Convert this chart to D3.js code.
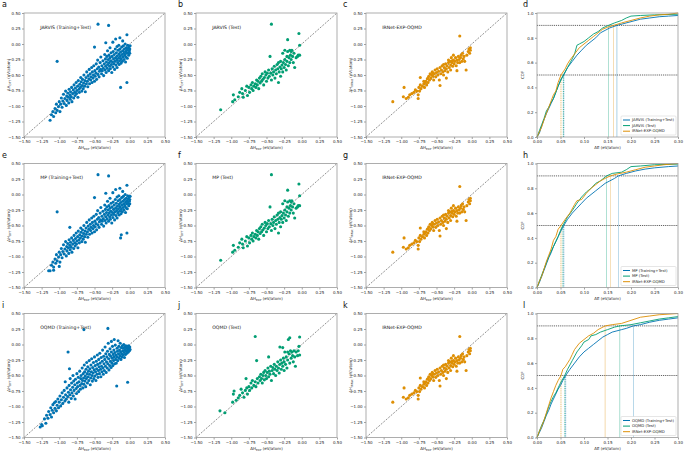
<!DOCTYPE html>
<html>
<head>
<meta charset="utf-8">
<script src="https://cdn.jsdelivr.net/npm/d3@7"></script>
<style>
  body { margin: 0; background: #fff; }
  svg text { font-family: "DejaVu Sans", sans-serif; }
</style>
</head>
<body>
<svg id="fig" width="685" height="452"></svg>
<script>
// ---- data: scatter points [ΔH_EXP, ΔH_pred] in eV/atom ----
var trainJarvis = [
  [-1.13,-1.23],[-1.11,-1.14],[-1.09,-1.09],[-1.08,-1.17],[-1.06,-1.04],[-1.05,-1.11],[-1.04,-0.97],[-1.03,-1.07],
  [-1.03,-0.28],[-1.01,-1.01],[-1.00,-0.93],[-0.99,-1.09],[-0.98,-0.97],[-0.97,-0.87],[-0.96,-1.02],[-0.95,-0.92],
  [-0.94,-0.81],[-0.93,-0.96],[-0.92,-0.88],[-0.91,-0.76],[-0.90,-0.99],[-0.895,-0.84],[-0.89,-0.91],[-0.88,-0.79],
  [-0.87,-0.86],[-0.865,-0.95],[-0.86,-0.73],[-0.85,-0.82],[-0.845,-0.89],[-0.84,-0.77],[-0.83,-0.85],[-0.825,-0.70],
  [-0.82,-0.93],[-0.81,-0.80],[-0.80,-0.74],[-0.795,-0.87],[-0.79,-0.66],[-0.78,-0.78],[-0.775,-0.83],[-0.77,-0.71],
  [-0.76,-0.62],[-0.755,-0.80],[-0.75,-0.75],[-0.74,-0.68],[-0.735,-0.86],[-0.73,-0.59],[-0.72,-0.73],[-0.715,-0.78],
  [-0.71,-0.65],[-0.70,-0.70],[-0.695,-0.54],[-0.69,-0.61],[-0.68,-0.76],[-0.675,-0.67],[-0.67,-0.57],[-0.66,-0.72],
  [-0.655,-0.63],[-0.65,-0.50],[-0.64,-0.68],[-0.635,-0.59],[-0.63,-0.77],[-0.62,-0.54],[-0.615,-0.64],[-0.61,-0.45],
  [-0.60,-0.60],[-0.595,-0.69],[-0.59,-0.51],[-0.58,-0.56],[-0.575,-0.41],[-0.57,-0.64],[-0.56,-0.48],[-0.555,-0.58],
  [-0.55,-0.53],[-0.54,-0.38],[-0.535,-0.62],[-0.53,-0.45],[-0.52,-0.55],[-0.515,-0.50],[-0.51,-0.35],[-0.50,-0.60],
  [-0.50,-0.05],[-0.495,-0.43],[-0.49,-0.52],[-0.48,-0.47],[-0.475,-0.32],[-0.47,-0.57],[-0.46,-0.40],[-0.455,-0.26],
  [-0.45,0.32],[-0.45,-0.49],[-0.44,-0.37],[-0.435,-0.53],[-0.43,-0.44],[-0.42,-0.30],[-0.415,-0.41],[-0.41,-0.21],
  [-0.40,-0.48],[-0.395,-0.35],[-0.39,-0.43],[-0.38,-0.27],[-0.375,-0.39],[-0.37,-0.51],[-0.36,-0.32],[-0.355,-0.17],
  [-0.35,-0.42],[-0.345,-0.24],[-0.34,0.02],[-0.34,-0.36],[-0.335,-0.46],[-0.33,-0.29],[-0.325,-0.20],[-0.32,-0.39],
  [-0.315,-0.11],[-0.31,-0.33],[-0.305,-0.25],[-0.30,0.30],[-0.30,-0.43],[-0.295,-0.18],[-0.29,-0.30],[-0.285,-0.36],
  [-0.28,-0.06],[-0.28,-0.22],[-0.275,-0.40],[-0.27,-0.27],[-0.265,-0.14],[-0.26,-0.33],[-0.255,-0.46],[-0.25,-0.20],
  [-0.245,-0.29],[-0.24,0.03],[-0.24,-0.37],[-0.235,-0.12],[-0.23,-0.24],[-0.225,-0.32],[-0.22,-0.17],[-0.215,-0.41],
  [-0.21,-0.28],[-0.205,-0.08],[-0.20,0.08],[-0.20,-0.22],[-0.195,-0.34],[-0.19,-0.14],[-0.185,-0.26],[-0.18,-0.04],
  [-0.18,-0.38],[-0.175,-0.19],[-0.17,-0.30],[-0.165,-0.10],[-0.16,-0.23],[-0.155,-0.02],[-0.15,-0.16],[-0.15,-0.33],
  [-0.145,-0.27],[-0.14,0.10],[-0.14,-0.08],[-0.135,-0.20],[-0.13,-0.70],[-0.13,-0.13],[-0.125,-0.31],[-0.12,-0.24],
  [-0.115,-0.05],[-0.11,-0.17],[-0.105,-0.28],[-0.10,0.05],[-0.10,-0.11],[-0.095,-0.21],[-0.09,-0.03],[-0.085,-0.15],
  [-0.08,-0.25],[-0.075,-0.08],[-0.07,-0.18],[-0.065,0.00],[-0.06,-0.12],[-0.06,-0.29],[-0.055,-0.21],[-0.05,-0.06],
  [-0.045,-0.15],[-0.04,0.15],[-0.04,-0.62],[-0.04,-0.10],[-0.035,-0.23],[-0.03,-0.02],[-0.025,-0.14],[-0.02,-0.07],
  [-0.015,-0.18],[-0.01,-0.04],[-0.005,-0.11],[0.00,-0.08],[0.005,-0.03],[0.00,-0.15]
];
// panel e differs from a only in a few points
var mpExtra = [[-1.15,-1.23],[-1.08,-1.22],[-1.00,-1.16],[-0.85,-0.53],[-0.12,-0.65]];

var trainOqmd = [
  [-1.27,-1.33],[-1.25,-1.29],[-1.24,-1.31],[-1.21,-1.20],[-1.19,-1.27],[-1.18,-1.14],[-1.16,-1.19],[-1.15,-1.08],
  [-1.13,-1.13],[-1.12,-1.02],[-1.11,-1.17],[-1.10,-1.06],[-1.09,-0.97],[-1.08,-1.10],[-1.07,-0.94],[-1.06,-1.03],
  [-1.05,-0.92],[-1.04,-1.07],[-1.03,-0.98],[-1.02,-0.88],[-1.01,-1.02],[-1.00,-0.93],[-0.99,-0.83],[-0.98,-0.99],
  [-0.97,-0.89],[-0.96,-0.78],[-0.95,-0.95],[-0.94,-0.85],[-0.93,-0.74],[-0.92,-0.91],[-0.915,-0.60],[-0.91,-0.81],
  [-0.90,-0.88],[-0.89,-0.70],[-0.88,-0.84],[-0.875,-0.12],[-0.87,-0.77],[-0.865,-0.93],[-0.86,-0.66],[-0.855,-0.39],
  [-0.85,-0.81],[-0.845,-0.55],[-0.84,-0.73],[-0.83,-0.87],[-0.825,-0.62],[-0.82,-0.78],[-0.81,-0.69],[-0.805,-0.50],
  [-0.80,-0.83],[-0.795,-0.59],[-0.79,-0.74],[-0.78,-0.65],[-0.775,-0.88],[-0.77,-0.56],[-0.76,-0.71],[-0.755,-0.79],
  [-0.75,-0.47],[-0.745,-0.62],[-0.74,-0.68],[-0.73,-0.53],[-0.725,-0.76],[-0.72,-0.60],[-0.71,-0.43],[-0.705,-0.66],
  [-0.70,-0.72],[-0.695,-0.55],[-0.69,-0.50],[-0.68,-0.63],[-0.675,-0.38],[-0.67,-0.58],[-0.665,-0.70],[-0.66,-0.47],
  [-0.655,-0.54],[-0.65,0.24],[-0.65,-0.64],[-0.645,-0.33],[-0.64,-0.44],[-0.635,-0.59],[-0.63,-0.51],[-0.625,-0.68],
  [-0.62,-0.40],[-0.615,-0.55],[-0.61,-0.29],[-0.605,-0.47],[-0.60,-0.62],[-0.595,-0.36],[-0.59,-0.52],[-0.585,-0.43],
  [-0.58,-0.58],[-0.575,-0.26],[-0.57,-0.48],[-0.565,-0.39],[-0.56,-0.65],[-0.555,-0.54],[-0.55,-0.33],[-0.545,-0.44],
  [-0.54,-0.23],[-0.535,-0.50],[-0.53,-0.59],[-0.525,-0.37],[-0.52,-0.46],[-0.515,-0.29],[-0.51,-0.55],[-0.505,-0.41],
  [-0.50,-0.20],[-0.495,-0.51],[-0.49,-0.34],[-0.485,-0.44],[-0.48,-0.58],[-0.475,-0.27],[-0.47,-0.39],[-0.465,-0.48],
  [-0.46,-0.17],[-0.455,-0.32],[-0.45,-0.53],[-0.445,-0.42],[-0.44,-0.24],[-0.435,-0.36],[-0.43,-0.47],[-0.425,-0.14],
  [-0.42,-0.30],[-0.415,-0.40],[-0.41,-0.52],[-0.405,-0.21],[-0.40,-0.35],[-0.395,-0.44],[-0.39,-0.27],[-0.385,-0.09],
  [-0.38,-0.38],[-0.375,-0.48],[-0.37,-0.19],[-0.365,-0.31],[-0.36,-0.42],[-0.355,-0.24],[-0.35,-0.04],[-0.345,-0.35],
  [-0.34,-0.15],[-0.335,-0.45],[-0.33,-0.28],[-0.325,-0.20],[-0.32,-0.38],[-0.315,-0.11],[-0.31,0.26],[-0.31,-0.31],
  [-0.305,0.02],[-0.30,-0.23],[-0.295,-0.41],[-0.29,-0.16],[-0.285,-0.34],[-0.28,-0.07],[-0.275,-0.27],[-0.27,-0.19],
  [-0.265,-0.37],[-0.26,0.05],[-0.26,-0.12],[-0.255,-0.30],[-0.25,-0.22],[-0.245,-0.03],[-0.24,-0.34],[-0.235,-0.16],
  [-0.23,-0.26],[-0.225,-0.09],[-0.22,0.08],[-0.22,-0.20],[-0.215,-0.31],[-0.21,-0.13],[-0.205,-0.01],[-0.20,-0.24],
  [-0.195,-0.17],[-0.19,-0.30],[-0.185,-0.67],[-0.18,-0.06],[-0.18,-0.20],[-0.175,-0.11],[-0.17,-0.26],[-0.165,0.06],
  [-0.16,-0.15],[-0.155,-0.03],[-0.15,-0.22],[-0.145,-0.09],[-0.14,-0.18],[-0.135,0.02],[-0.13,-0.12],[-0.125,-0.24],
  [-0.12,-0.05],[-0.115,-0.15],[-0.11,-0.20],[-0.105,-0.02],[-0.10,-0.10],[-0.095,-0.17],[-0.09,-0.06],[-0.085,0.00],
  [-0.08,-0.13],[-0.075,-0.21],[-0.07,-0.04],[-0.065,-0.09],[-0.06,-0.16],[-0.055,-0.02],[-0.05,-0.11],[-0.045,-0.06],
  [-0.04,-0.14],[-0.035,-0.03],[-0.03,-0.61],[-0.03,-0.09],[-0.025,-0.05],[-0.02,-0.12],[-0.015,-0.02],[-0.01,-0.07],
  [-0.005,-0.10],[0.00,-0.04],[0.005,-0.08]
];

var testJarvis = [
  [-1.15,-1.06],[-0.98,-0.93],[-0.97,-0.82],[-0.95,-0.90],[-0.90,-0.85],[-0.88,-0.78],[-0.85,-0.72],[-0.84,-0.80],
  [-0.83,-0.86],[-0.80,-0.75],[-0.78,-0.68],[-0.77,-0.83],[-0.75,-0.70],[-0.74,-0.78],[-0.72,-0.66],[-0.71,-0.72],
  [-0.70,-0.62],[-0.69,-0.75],[-0.68,-0.68],[-0.66,-0.64],[-0.65,-0.70],[-0.64,-0.58],[-0.63,-0.66],[-0.62,-0.60],
  [-0.61,-0.72],[-0.60,-0.55],[-0.59,-0.63],[-0.58,-0.52],[-0.57,-0.60],[-0.56,-0.48],[-0.55,-0.57],[-0.54,-0.66],
  [-0.53,-0.54],[-0.52,-0.45],[-0.51,-0.50],[-0.50,-0.60],[-0.49,-0.47],[-0.48,-0.55],[-0.47,-0.42],[-0.46,-0.52],
  [-0.45,-0.20],[-0.44,-0.47],[-0.43,-0.58],[-0.43,0.32],[-0.42,-0.40],[-0.41,-0.50],[-0.40,-0.45],[-0.39,-0.36],
  [-0.38,-0.55],[-0.37,-0.42],[-0.36,-0.48],[-0.35,-0.33],[-0.34,-0.40],[-0.33,-0.62],[-0.33,-0.30],[-0.32,-0.45],
  [-0.31,-0.37],[-0.30,-0.52],[-0.30,-0.28],[-0.29,-0.40],[-0.28,-0.34],[-0.27,-0.15],[-0.27,-0.45],[-0.26,-0.30],
  [-0.25,-0.38],[-0.24,-0.10],[-0.24,-0.25],[-0.23,-0.33],[-0.22,-0.42],[-0.21,-0.20],[-0.21,-0.28],[-0.20,0.07],
  [-0.20,-0.12],[-0.19,-0.35],[-0.18,-0.22],[-0.17,-0.10],[-0.17,-0.30],[-0.16,-0.18],[-0.15,-0.25],[-0.15,-0.12],
  [-0.14,-0.10],[-0.13,-0.20],[-0.12,-0.30],[-0.11,-0.15],[-0.10,-0.38],[-0.08,-0.22],[-0.06,-0.20],[-0.05,-0.18],
  [-0.04,0.17],[-0.03,-0.02],[-0.03,-0.18]
];

var testOqmd = [
  [-1.16,-1.07],[-1.09,-1.10],[-0.98,-0.93],[-0.97,-0.80],[-0.96,-0.75],[-0.93,-0.90],[-0.90,-0.86],[-0.88,-0.82],
  [-0.86,-0.72],[-0.84,-0.78],[-0.82,-0.85],[-0.80,-0.74],[-0.79,-0.55],[-0.78,-0.70],[-0.77,-0.80],[-0.75,-0.68],
  [-0.74,-0.74],[-0.72,-0.62],[-0.71,-0.70],[-0.70,-0.58],[-0.68,-0.66],[-0.66,-0.60],[-0.66,0.13],[-0.65,-0.68],
  [-0.64,-0.26],[-0.63,-0.55],[-0.62,-0.62],[-0.60,-0.52],[-0.59,-0.58],[-0.58,-0.48],[-0.57,-0.55],[-0.56,-0.62],
  [-0.55,-0.50],[-0.54,-0.45],[-0.53,-0.57],[-0.52,-0.42],[-0.51,-0.50],[-0.50,-0.55],[-0.49,-0.45],[-0.48,-0.38],
  [-0.47,-0.52],[-0.47,-0.20],[-0.46,-0.43],[-0.45,-0.48],[-0.44,-0.35],[-0.43,-0.58],[-0.42,-0.42],[-0.41,-0.37],
  [-0.40,-0.47],[-0.39,-0.32],[-0.38,-0.40],[-0.37,-0.50],[-0.36,-0.35],[-0.35,-0.42],[-0.34,-0.28],[-0.33,-0.38],
  [-0.32,-0.46],[-0.31,-0.04],[-0.31,-0.32],[-0.30,-0.25],[-0.29,-0.40],[-0.28,-0.30],[-0.27,-0.05],[-0.27,-0.35],
  [-0.26,-0.22],[-0.25,-0.42],[-0.25,-0.28],[-0.24,-0.12],[-0.23,-0.32],[-0.22,-0.20],[-0.21,-0.38],[-0.20,-0.12],
  [-0.20,-0.25],[-0.19,0.08],[-0.18,-0.15],[-0.17,0.11],[-0.17,-0.30],[-0.16,-0.10],[-0.15,-0.22],[-0.14,-0.12],
  [-0.13,-0.18],[-0.12,-0.28],[-0.11,-0.10],[-0.10,-0.20],[-0.09,-0.35],[-0.08,-0.12],[-0.06,-0.18],[-0.05,-0.10],
  [-0.04,-0.03],[-0.03,0.12],[-0.03,-0.17]
];

var irnetPoints = [
  [-1.12,-0.93],[-0.97,-0.85],[-0.96,-0.70],[-0.93,-0.88],[-0.90,-0.86],[-0.88,-0.82],[-0.85,-0.80],[-0.82,-0.78],
  [-0.80,-0.74],[-0.78,-0.76],[-0.76,-0.88],[-0.76,-0.82],[-0.75,-0.70],[-0.74,-0.76],[-0.73,-0.66],[-0.73,-0.54],
  [-0.72,-0.72],[-0.70,-0.68],[-0.68,-0.64],[-0.67,-0.70],[-0.66,-0.62],[-0.65,-0.60],[-0.64,-0.66],[-0.63,-0.56],
  [-0.62,-0.62],[-0.61,-0.52],[-0.60,-0.58],[-0.59,-0.48],[-0.58,-0.55],[-0.57,-0.50],[-0.56,-0.45],[-0.55,-0.52],
  [-0.54,-0.58],[-0.53,-0.48],[-0.52,-0.42],[-0.51,-0.53],[-0.50,-0.46],[-0.49,-0.40],[-0.48,-0.50],[-0.47,-0.44],
  [-0.46,-0.58],[-0.45,-0.38],[-0.45,-0.67],[-0.44,-0.48],[-0.43,-0.42],[-0.42,-0.35],[-0.41,-0.45],[-0.40,-0.50],
  [-0.39,-0.38],[-0.38,-0.43],[-0.37,-0.32],[-0.36,-0.55],[-0.36,-0.40],[-0.35,-0.35],[-0.34,-0.45],[-0.33,-0.30],
  [-0.32,-0.38],[-0.31,-0.28],[-0.30,-0.42],[-0.30,-0.34],[-0.29,-0.22],[-0.28,-0.30],[-0.27,-0.36],[-0.26,-0.26],
  [-0.26,-0.18],[-0.25,-0.32],[-0.24,-0.28],[-0.23,-0.22],[-0.22,-0.35],[-0.21,-0.43],[-0.21,-0.26],[-0.20,-0.30],
  [-0.19,-0.20],[-0.18,-0.25],[-0.17,0.13],[-0.17,-0.30],[-0.16,-0.22],[-0.15,-0.18],[-0.14,-0.28],[-0.13,-0.15],
  [-0.12,-0.24],[-0.11,-0.20],[-0.10,-0.28],[-0.08,-0.42],[-0.07,-0.18],[-0.05,-0.12],[-0.04,-0.08],[-0.03,-0.15],
  [-0.02,-0.10],[-0.02,-0.06],[-0.28,-0.27],[-0.33,-0.26],[-0.40,-0.33],[-0.55,-0.47],[-0.62,-0.55],[-0.68,-0.60]
];

// ---- CDF curves: [AE, cumulative fraction] ----
var cdfJarvisAll = [[0,0],[0.005,0.03],[0.01,0.09],[0.015,0.14],[0.02,0.19],[0.025,0.23],[0.03,0.27],[0.035,0.31],[0.04,0.36],[0.045,0.41],[0.05,0.46],[0.057,0.50],[0.065,0.56],[0.075,0.61],[0.085,0.66],[0.095,0.70],[0.105,0.74],[0.115,0.77],[0.125,0.80],[0.135,0.84],[0.145,0.86],[0.155,0.88],[0.17,0.90],[0.185,0.915],[0.20,0.93],[0.22,0.95],[0.24,0.96],[0.26,0.97],[0.28,0.975],[0.30,0.98]];
var cdfJarvisTest = [[0,0],[0.005,0.05],[0.01,0.10],[0.015,0.15],[0.02,0.21],[0.025,0.24],[0.03,0.28],[0.035,0.31],[0.04,0.36],[0.045,0.41],[0.05,0.45],[0.056,0.50],[0.065,0.56],[0.075,0.63],[0.08,0.67],[0.085,0.74],[0.09,0.75],[0.10,0.77],[0.11,0.80],[0.12,0.83],[0.13,0.85],[0.14,0.88],[0.152,0.90],[0.165,0.92],[0.18,0.94],[0.19,0.96],[0.20,0.975],[0.22,0.98],[0.25,0.985],[0.30,0.99]];
var cdfIrnetD = [[0,0],[0.005,0.04],[0.01,0.08],[0.015,0.14],[0.02,0.19],[0.025,0.24],[0.03,0.29],[0.035,0.34],[0.04,0.37],[0.045,0.44],[0.051,0.50],[0.06,0.55],[0.065,0.59],[0.07,0.62],[0.08,0.67],[0.09,0.72],[0.10,0.75],[0.11,0.78],[0.12,0.81],[0.13,0.84],[0.14,0.87],[0.15,0.885],[0.163,0.90],[0.18,0.92],[0.20,0.94],[0.22,0.96],[0.24,0.975],[0.26,0.985],[0.28,0.99],[0.30,1.0]];

var cdfMpAll = [[0,0],[0.005,0.04],[0.01,0.09],[0.015,0.14],[0.02,0.19],[0.025,0.24],[0.03,0.28],[0.035,0.33],[0.04,0.37],[0.045,0.41],[0.05,0.45],[0.057,0.50],[0.065,0.55],[0.075,0.60],[0.085,0.64],[0.095,0.68],[0.105,0.72],[0.115,0.75],[0.125,0.78],[0.135,0.81],[0.145,0.84],[0.155,0.86],[0.165,0.88],[0.173,0.90],[0.19,0.92],[0.21,0.94],[0.23,0.955],[0.25,0.965],[0.28,0.975],[0.30,0.98]];
var cdfMpTest = [[0,0],[0.005,0.05],[0.01,0.10],[0.015,0.15],[0.02,0.20],[0.025,0.25],[0.03,0.29],[0.035,0.33],[0.04,0.37],[0.045,0.41],[0.05,0.46],[0.055,0.50],[0.065,0.57],[0.075,0.62],[0.085,0.68],[0.095,0.73],[0.105,0.77],[0.115,0.80],[0.125,0.84],[0.135,0.86],[0.148,0.90],[0.16,0.92],[0.18,0.93],[0.19,0.95],[0.20,0.975],[0.22,0.98],[0.25,0.99],[0.30,0.995]];
var cdfIrnetH = [[0,0],[0.005,0.05],[0.01,0.09],[0.015,0.15],[0.02,0.21],[0.025,0.26],[0.03,0.31],[0.035,0.38],[0.04,0.41],[0.045,0.47],[0.051,0.50],[0.06,0.55],[0.07,0.60],[0.08,0.67],[0.085,0.70],[0.095,0.71],[0.105,0.76],[0.115,0.80],[0.125,0.83],[0.135,0.86],[0.145,0.88],[0.156,0.90],[0.17,0.915],[0.19,0.93],[0.21,0.95],[0.23,0.97],[0.25,0.98],[0.27,0.99],[0.30,1.0]];

var cdfOqmdAll = [[0,0],[0.005,0.04],[0.01,0.08],[0.015,0.13],[0.02,0.18],[0.025,0.22],[0.03,0.27],[0.035,0.31],[0.04,0.35],[0.045,0.39],[0.05,0.42],[0.055,0.46],[0.061,0.50],[0.07,0.55],[0.08,0.60],[0.09,0.65],[0.10,0.69],[0.11,0.72],[0.12,0.75],[0.13,0.78],[0.14,0.81],[0.15,0.83],[0.16,0.85],[0.17,0.86],[0.18,0.87],[0.19,0.88],[0.205,0.90],[0.22,0.91],[0.24,0.93],[0.26,0.945],[0.28,0.955],[0.30,0.965]];
var cdfOqmdTest = [[0,0],[0.005,0.05],[0.01,0.10],[0.015,0.14],[0.02,0.19],[0.025,0.25],[0.03,0.29],[0.035,0.33],[0.04,0.36],[0.045,0.40],[0.05,0.44],[0.059,0.50],[0.065,0.55],[0.075,0.62],[0.085,0.69],[0.095,0.74],[0.10,0.77],[0.11,0.79],[0.115,0.82],[0.125,0.83],[0.135,0.85],[0.15,0.87],[0.165,0.89],[0.176,0.90],[0.20,0.91],[0.22,0.925],[0.24,0.94],[0.26,0.955],[0.28,0.965],[0.30,0.975]];
var cdfIrnetL = [[0,0],[0.005,0.05],[0.01,0.09],[0.015,0.14],[0.02,0.20],[0.025,0.26],[0.03,0.32],[0.035,0.37],[0.04,0.42],[0.045,0.46],[0.051,0.50],[0.055,0.55],[0.06,0.57],[0.065,0.60],[0.07,0.63],[0.075,0.67],[0.08,0.71],[0.09,0.76],[0.10,0.79],[0.11,0.82],[0.12,0.84],[0.13,0.87],[0.145,0.90],[0.16,0.91],[0.18,0.92],[0.20,0.945],[0.22,0.97],[0.24,0.98],[0.26,0.99],[0.30,1.0]];

// median and 90th-percentile AE for each curve (d, h, l order: all, test, irnet)
var medians = [[0.057, 0.056, 0.051], [0.057, 0.055, 0.051], [0.061, 0.059, 0.051]];
var p90s = [[0.170, 0.152, 0.163], [0.173, 0.148, 0.156], [0.205, 0.176, 0.145]];

var scatterTicks = [-1.5, -1.25, -1.0, -0.75, -0.5, -0.25, 0, 0.25, 0.5];
var cdfXTicks = [0, 0.05, 0.1, 0.15, 0.2, 0.25, 0.3];
var cdfYTicks = [0, 0.2, 0.4, 0.6, 0.8, 1.0];

var colors = {all: '#0173b2', test: '#029e73', irnet: '#de8f05'};

// ---- layout ----
var W = 141, H = 124;
var colX = [24, 196, 366, 537];
var rowY = [13, 163.5, 313.5];
var letterX = [2, 178, 343, 523];

var svg = d3.select('#fig');

function styleAxis(sel) {
  sel.select('.domain').remove();
  sel.selectAll('.tick line').attr('stroke', '#444').attr('stroke-width', 0.5);
  sel.selectAll('.tick text').attr('font-size', 4).attr('fill', '#222');
}

function subLabel(sel, main, sub, rest) {
  sel.append('tspan').text(main);
  sel.append('tspan').attr('font-size', 2.8).attr('dy', 1).text(sub);
  sel.append('tspan').attr('dy', -1).text(rest);
}

function panelFrame(col, row, letter) {
  svg.append('text')
    .attr('x', letterX[col]).attr('y', rowY[row] - 6)
    .attr('font-size', 8).attr('fill', '#111')
    .text(letter);
  return svg.append('g')
    .attr('transform', 'translate(' + colX[col] + ',' + rowY[row] + ')');
}

function scatterPanel(col, row, letter, pts, color, title, ySub) {
  var g = panelFrame(col, row, letter);
  var x = d3.scaleLinear().domain([-1.5, 0.5]).range([0, W]);
  var y = d3.scaleLinear().domain([-1.5, 0.5]).range([H, 0]);

  g.append('g')
    .attr('transform', 'translate(0,' + H + ')')
    .call(d3.axisBottom(x).tickValues(scatterTicks).tickFormat(d3.format('.2f')).tickSize(2).tickPadding(1.5))
    .call(styleAxis);
  g.append('g')
    .call(d3.axisLeft(y).tickValues(scatterTicks).tickFormat(d3.format('.2f')).tickSize(2).tickPadding(1.5))
    .call(styleAxis);

  g.append('line')
    .attr('x1', x(-1.5)).attr('y1', y(-1.5)).attr('x2', x(0.5)).attr('y2', y(0.5))
    .attr('stroke', '#222').attr('stroke-width', 0.5).attr('stroke-dasharray', '2,1.3');

  g.append('g').selectAll('circle')
    .data(pts)
    .enter().append('circle')
      .attr('cx', function(d) { return x(d[0]); })
      .attr('cy', function(d) { return y(d[1]); })
      .attr('r', 1.55)
      .attr('fill', color);

  g.append('text')
    .attr('x', x(-1.27)).attr('y', y(0.27))
    .attr('dominant-baseline', 'middle')
    .attr('font-size', 4.6).attr('fill', '#111')
    .text(title);

  g.append('rect')
    .attr('width', W).attr('height', H)
    .attr('fill', 'none').attr('stroke', '#9a9a9a').attr('stroke-width', 0.8);

  g.append('text')
    .attr('x', W / 2).attr('y', H + 12)
    .attr('text-anchor', 'middle').attr('font-size', 4).attr('fill', '#222')
    .call(subLabel, '\u0394H', 'EXP', ' (eV/atom)');
  g.append('text')
    .attr('transform', 'translate(-14.5,' + (H / 2) + ') rotate(-90)')
    .attr('text-anchor', 'middle').attr('font-size', 4).attr('fill', '#222')
    .call(subLabel, '\u0394H', ySub, ' (eV/atom)');
}

function cdfPanel(row, letter, curves, labels) {
  var g = panelFrame(3, row, letter);
  var x = d3.scaleLinear().domain([0, 0.3]).range([0, W]);
  var y = d3.scaleLinear().domain([0, 1]).range([H, 0]);
  var keys = ['all', 'test', 'irnet'];

  g.append('g')
    .attr('transform', 'translate(0,' + H + ')')
    .call(d3.axisBottom(x).tickValues(cdfXTicks).tickFormat(d3.format('.2f')).tickSize(2).tickPadding(1.5))
    .call(styleAxis);
  g.append('g')
    .call(d3.axisLeft(y).tickValues(cdfYTicks).tickFormat(d3.format('.1f')).tickSize(2).tickPadding(1.5))
    .call(styleAxis);

  // guide lines at the median and the 90th percentile
  [0.5, 0.9].forEach(function(level) {
    g.append('line')
      .attr('x1', 0).attr('x2', W).attr('y1', y(level)).attr('y2', y(level))
      .attr('stroke', '#222').attr('stroke-width', 0.7).attr('stroke-dasharray', '1.2,0.9');
  });
  keys.forEach(function(k, i) {
    g.append('line')
      .attr('x1', x(medians[row][i])).attr('x2', x(medians[row][i]))
      .attr('y1', y(0)).attr('y2', y(0.5))
      .attr('stroke', colors[k]).attr('stroke-width', 0.6).attr('stroke-dasharray', '1,0.8');
    g.append('line')
      .attr('x1', x(p90s[row][i])).attr('x2', x(p90s[row][i]))
      .attr('y1', y(0)).attr('y2', y(0.9))
      .attr('stroke', colors[k]).attr('stroke-width', 0.6).attr('opacity', 0.55);
  });

  var line = d3.line()
    .x(function(d) { return x(d[0]); })
    .y(function(d) { return y(d[1]); });

  keys.forEach(function(k, i) {
    g.append('path')
      .datum(curves[i])
      .attr('d', line)
      .attr('fill', 'none')
      .attr('stroke', colors[k])
      .attr('stroke-width', 0.9);
  });

  g.append('rect')
    .attr('width', W).attr('height', H)
    .attr('fill', 'none').attr('stroke', '#9a9a9a').attr('stroke-width', 0.8);

  // legend, lower right
  var lg = g.append('g').attr('transform', 'translate(' + (W - 57) + ',' + (H - 21) + ')');
  lg.append('rect')
    .attr('width', 55).attr('height', 19).attr('rx', 1)
    .attr('fill', '#fff').attr('stroke', '#ccc').attr('stroke-width', 0.5);
  keys.forEach(function(k, i) {
    var ly = 4 + i * 5.6;
    lg.append('line')
      .attr('x1', 2).attr('x2', 9).attr('y1', ly).attr('y2', ly)
      .attr('stroke', colors[k]).attr('stroke-width', 1);
    lg.append('text')
      .attr('x', 11).attr('y', ly)
      .attr('dominant-baseline', 'middle')
      .attr('font-size', 3.8).attr('fill', '#222')
      .text(labels[i]);
  });

  g.append('text')
    .attr('x', W / 2).attr('y', H + 12)
    .attr('text-anchor', 'middle').attr('font-size', 4).attr('fill', '#222')
    .text('AE (eV/atom)');
  g.append('text')
    .attr('transform', 'translate(-13,' + (H / 2) + ') rotate(-90)')
    .attr('text-anchor', 'middle').attr('font-size', 4).attr('fill', '#222')
    .text('CDF');
}

var trainMp = trainJarvis.concat(mpExtra);

scatterPanel(0, 0, 'a', trainJarvis, colors.all, 'JARVIS (Training+Test)', 'DFT');
scatterPanel(1, 0, 'b', testJarvis, colors.test, 'JARVIS (Test)', 'DFT');
scatterPanel(2, 0, 'c', irnetPoints, colors.irnet, 'IRNet-EXP-OQMD', 'IRNet');
cdfPanel(0, 'd', [cdfJarvisAll, cdfJarvisTest, cdfIrnetD], ['JARVIS (Training+Test)', 'JARVIS (Test)', 'IRNet-EXP-OQMD']);

scatterPanel(0, 1, 'e', trainMp, colors.all, 'MP (Training+Test)', 'DFT');
scatterPanel(1, 1, 'f', testJarvis, colors.test, 'MP (Test)', 'DFT');
scatterPanel(2, 1, 'g', irnetPoints, colors.irnet, 'IRNet-EXP-OQMD', 'IRNet');
cdfPanel(1, 'h', [cdfMpAll, cdfMpTest, cdfIrnetH], ['MP (Training+Test)', 'MP (Test)', 'IRNet-EXP-OQMD']);

scatterPanel(0, 2, 'i', trainOqmd, colors.all, 'OQMD (Training+Test)', 'DFT');
scatterPanel(1, 2, 'j', testOqmd, colors.test, 'OQMD (Test)', 'DFT');
scatterPanel(2, 2, 'k', irnetPoints, colors.irnet, 'IRNet-EXP-OQMD', 'IRNet');
cdfPanel(2, 'l', [cdfOqmdAll, cdfOqmdTest, cdfIrnetL], ['OQMD (Training+Test)', 'OQMD (Test)', 'IRNet-EXP-OQMD']);
</script>
</body>
</html>
